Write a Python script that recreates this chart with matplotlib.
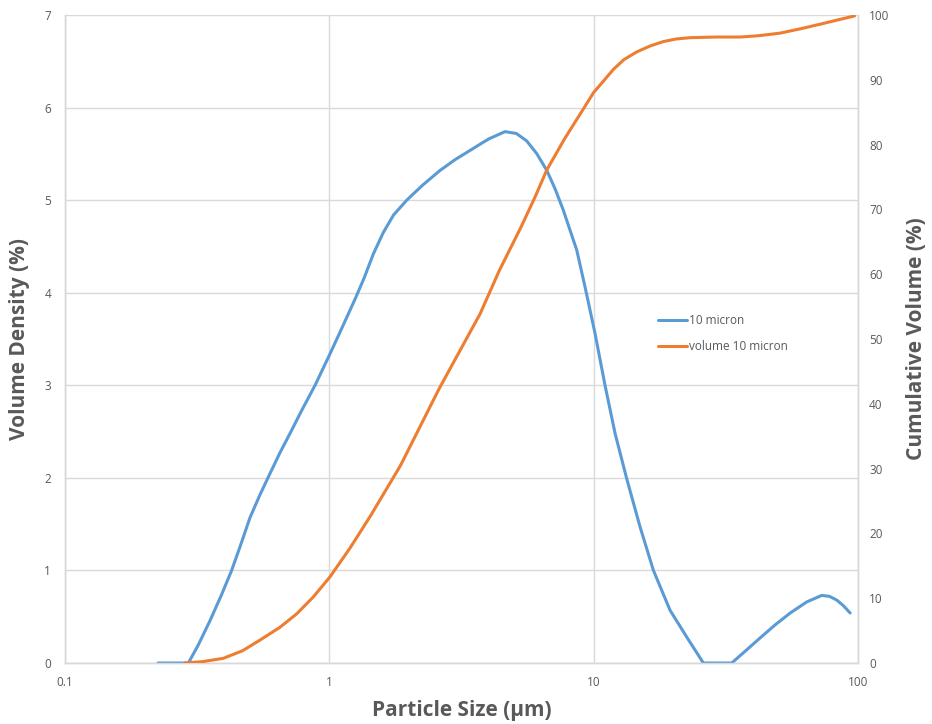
import matplotlib
matplotlib.use("Agg")
import matplotlib.pyplot as plt
from matplotlib.ticker import FixedLocator, NullLocator

# Volume density (left axis)
density_size = [0.225, 0.293, 0.32, 0.354, 0.39, 0.427, 0.465, 0.501, 0.545, 0.588, 0.65, 0.71,
                0.79, 0.883, 1.006, 1.1, 1.197, 1.251, 1.35, 1.468, 1.6, 1.75, 1.963, 2.25, 2.62,
                3.0, 3.51, 4.0, 4.62, 5.1, 5.58, 6.1, 6.65, 7.15, 7.68, 8.63, 9.28, 10.12, 11.04,
                12.05, 13.34, 14.98, 16.83, 19.45, 22.5, 26.0, 33.3, 37.5, 42.6, 48.5, 55.4, 64.0,
                72.9, 78.0, 83.1, 88.0, 93.4]
density_vals = [0.0, 0.0, 0.2, 0.46, 0.73, 1.0, 1.3, 1.57, 1.81, 2.01, 2.27, 2.48,
                2.74, 3.0, 3.34, 3.58, 3.81, 3.93, 4.15, 4.42, 4.65, 4.84, 5.0, 5.16, 5.32,
                5.44, 5.56, 5.66, 5.74, 5.72, 5.64, 5.5, 5.32, 5.12, 4.89, 4.46, 4.06, 3.56, 3.0,
                2.48, 1.99, 1.47, 1.0, 0.57, 0.28, 0.0, 0.0, 0.13, 0.27, 0.41, 0.54, 0.66,
                0.73, 0.72, 0.68, 0.62, 0.54]

# Cumulative volume (right axis)
cum_size = [0.284, 0.33, 0.397, 0.47, 0.547, 0.65, 0.753, 0.87, 1.006, 1.2, 1.426, 1.86, 2.6,
            3.72, 4.4, 5.3, 6.0, 6.65, 7.79, 9.14, 9.98, 11.87, 13.0, 14.55, 16.3, 18.35, 20.5,
            23.2, 29.0, 35.8, 42.0, 50.7, 61.0, 74.0, 85.0, 97.0]
cum_vals = [0.0, 0.2, 0.72, 1.9, 3.55, 5.5, 7.6, 10.2, 13.3, 17.8, 22.6, 30.5, 42.3,
            53.9, 60.6, 67.2, 71.9, 76.1, 81.0, 85.5, 88.0, 91.6, 93.1, 94.3, 95.2, 95.9, 96.3,
            96.5, 96.6, 96.6, 96.8, 97.2, 97.9, 98.7, 99.3, 99.85]

x_ticks = [0.1, 1, 10, 100]
x_tick_labels = ["0.1", "1", "10", "100"]
left_ticks = [0, 1, 2, 3, 4, 5, 6, 7]
right_ticks = [0, 10, 20, 30, 40, 50, 60, 70, 80, 90, 100]

BLUE = "#5B9BD5"
ORANGE = "#ED7D31"
TXT = "#595959"
GRID = "#D9D9D9"

fig = plt.figure(figsize=(9.32, 7.24), dpi=100)
ax = fig.add_axes([65/932, 1 - 663/724, (858 - 65)/932, (663 - 15)/724])
ax2 = ax.twinx()

l1, = ax.plot(density_size, density_vals, color=BLUE, lw=2.2, label="10 micron",
              solid_capstyle="round", solid_joinstyle="round", zorder=3)
l2, = ax2.plot(cum_size, cum_vals, color=ORANGE, lw=2.2, label="volume 10 micron",
               solid_capstyle="round", solid_joinstyle="round", zorder=3)

ax.set_xscale("log")
ax.set_xlim(0.1, 100)
ax.set_ylim(0, 7)
ax2.set_ylim(0, 100)
ax.xaxis.set_major_locator(FixedLocator(x_ticks))
ax.xaxis.set_minor_locator(NullLocator())
ax.set_xticklabels(x_tick_labels)
ax.set_yticks(left_ticks)
ax2.set_yticks(right_ticks)

font = "Open Sans"
for a in (ax, ax2):
    for s in a.spines.values():
        s.set_color(GRID)
        s.set_linewidth(1.0)
    a.spines["top"].set_visible(False)
    a.tick_params(length=0, colors=TXT, labelsize=8.5)
    for lab in a.get_xticklabels() + a.get_yticklabels():
        lab.set_fontfamily(font)

ax.tick_params(axis="x", pad=9)
ax.tick_params(axis="y", pad=10)
ax2.tick_params(axis="y", pad=8)

ax.grid(True, which="major", color=GRID, lw=1.0, zorder=0)
ax.set_axisbelow(True)

ax.set_xlabel("Particle Size (\u00b5m)", fontsize=15, fontweight="bold", color=TXT,
              family=font, labelpad=8)
ax.set_ylabel("Volume Density (%)", fontsize=15, fontweight="bold", color=TXT,
              family=font, labelpad=10)
ax2.set_ylabel("Cumulative Volume (%)", fontsize=15, fontweight="bold", color=TXT,
               family=font, labelpad=12)

leg = ax2.legend(handles=[l1, l2], loc="upper left", bbox_to_anchor=(0.735, 0.555),
                 frameon=False, handlelength=2.4, handletextpad=0.15,
                 labelspacing=1.1, prop={"family": font, "size": 8.5})
for t in leg.get_texts():
    t.set_color(TXT)

fig.savefig("out.png", dpi=100)
